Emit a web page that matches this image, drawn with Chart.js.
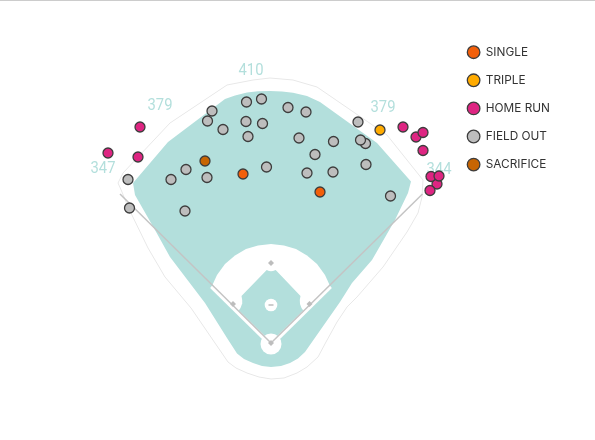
<!DOCTYPE html>
<html>
<head>
<meta charset="utf-8">
<title>Spray chart</title>
<script src="https://cdn.jsdelivr.net/npm/chart.js@4"></script>
<style>
  html, body { margin: 0; padding: 0; background: #fff; }
  body { border-top: 1px solid #ccc; width: 595px; height: 439px; overflow: hidden; position: relative; }
  canvas { position: absolute; top: -1px; left: 0; }
</style>
</head>
<body>
<canvas id="chart" width="595" height="440"></canvas>
<script>
// hits (x, y in field units)
const singles = [[243, 174], [320, 192]];
const triples = [[380, 130]];
const homeRuns = [[140, 127], [108, 153], [138, 157], [403, 127], [416, 137], [423, 132.5],
  [423, 150.5], [437, 184], [431, 176.5], [439, 176], [430, 190.5]];
const fieldOuts = [[128, 179.5], [129.5, 208], [185, 211], [171, 179.5], [186, 169.5], [207, 177.5],
  [266.5, 167], [212, 111], [207.5, 121], [223, 129.5], [246.5, 102], [261.5, 99], [246, 121.5],
  [262.5, 123.5], [248, 136.5], [288, 107.5], [306, 112], [299, 138], [333.5, 141.5], [315, 154.5],
  [307, 173], [333, 172], [366, 164.5], [358, 122], [365.5, 143.5], [360.5, 140], [390.5, 196]];
const sacrifices = [[205, 161]];

const hitNames = ['SINGLE', 'TRIPLE', 'HOME RUN', 'FIELD OUT', 'SACRIFICE'];
const hitColors = ['#f25f0a', '#ffab00', '#de2582', '#bdbdbd', '#c76503'];

const distanceLabels = ['410', '379', '379', '347', '344'];
const distanceSpots = [[251, 71], [160, 105.5], [383, 108], [103, 169], [439, 170]];

// field shapes
const wallLine = [[118, 183], [122, 192], [128, 207], [148, 248], [165, 277], [191, 308], [228, 362],
  [236, 368], [247, 373], [259, 377], [271, 379], [284, 378], [297, 373], [307, 367], [318, 357],
  [326, 342], [337, 322], [347, 307], [357, 297], [383, 267], [407, 232], [418, 213], [422, 197],
  [423, 180], [387, 135], [317, 87], [293, 80], [270, 78], [253, 80], [227, 85], [170, 123],
  [123, 173], [118, 183]];
const grass = [[133, 183], [168, 142], [225, 99], [235, 95.5], [247, 92.5], [258, 91.3], [270, 91],
  [282, 91.5], [293, 92.7], [307, 96], [320, 102], [377, 143], [411, 181.5], [408, 193], [395, 220],
  [372, 260], [352, 283], [340, 302], [305, 352], [298, 358.5], [290, 363], [281, 366], [271, 367],
  [262, 366], [253, 363], [244, 359], [237, 353.5], [227, 338], [205, 303], [170, 257], [155, 230],
  [135, 195]];
const infieldDirt = [[211.5, 287], [217, 275], [225, 264], [235, 255.5], [246, 249], [258, 245.5],
  [271, 244], [284, 245.5], [296, 249], [307, 255.5], [317, 264], [325, 275], [330.5, 287], [271, 345]];
const infieldGrass = [[266.7, 270], [269, 271], [271, 271.3], [273, 271], [275.7, 270], [300.5, 296],
  [299.8, 300], [300, 304], [301.5, 308], [304, 311.5], [271, 347], [238, 311.5], [240.5, 308],
  [242, 304], [242.2, 300], [241.5, 296]];
const leftFoul = [[271, 343], [120, 194]];
const rightFoul = [[271, 343], [422.5, 194]];
const leftStripe = [[211.5, 286.5], [271, 345]];
const rightStripe = [[330.5, 286.5], [271, 345]];
const bases = [[271, 263], [233, 304], [309.5, 304], [271, 343]];
const homeClearing = [[271, 344]];
const mound = [[271, 305]];

const TEAL = '#b3dfdc';
// chart.js insets the plot by the biggest point radius, so the axes start there too
const INSET = 10.5;

function hitSet(i, data) {
  return {
    label: hitNames[i],
    data: data,
    backgroundColor: hitColors[i],
    borderColor: '#3d3d3d',
    borderWidth: 1.3,
    pointRadius: 5,
    pointStyle: 'circle'
  };
}

function shape(data, color) {
  return {
    data: data,
    showLine: true,
    fill: 'shape',
    backgroundColor: color,
    borderColor: color,
    borderWidth: 0,
    pointRadius: 0
  };
}

function line(data, color, width) {
  return {
    data: data,
    showLine: true,
    fill: false,
    borderColor: color,
    borderWidth: width,
    pointRadius: 0
  };
}

function dots(data, color, radius, extra) {
  return Object.assign({
    data: data,
    backgroundColor: color,
    borderColor: color,
    borderWidth: 0,
    pointRadius: radius
  }, extra || {});
}

// distance numbers around the wall, squeezed a bit to look condensed
const distancePlugin = {
  id: 'distances',
  beforeDatasetsDraw(chart) {
    const ctx = chart.ctx;
    const { x, y } = chart.scales;
    ctx.save();
    ctx.fillStyle = TEAL;
    ctx.font = '17px Roboto';
    ctx.textAlign = 'center';
    ctx.textBaseline = 'middle';
    distanceLabels.forEach((text, i) => {
      ctx.save();
      ctx.translate(x.getPixelForValue(distanceSpots[i][0]), y.getPixelForValue(distanceSpots[i][1]));
      ctx.scale(0.87, 1);
      ctx.fillText(text, 0, 0);
      ctx.restore();
    });
    ctx.restore();
  }
};

// put the legend in the empty space right of the field
const legendSpot = {
  id: 'legendSpot',
  afterLayout(chart) {
    chart.legend.left = 451;
    chart.legend.top = 30;
  }
};

new Chart(document.getElementById('chart'), {
  type: 'scatter',
  data: {
    datasets: [
      hitSet(0, singles),
      hitSet(1, triples),
      hitSet(2, homeRuns),
      hitSet(3, fieldOuts),
      hitSet(4, sacrifices),
      dots(mound, '#bdbdbd', 2.5, { pointStyle: 'line', borderWidth: 1.5 }),
      dots(bases, '#bdbdbd', 3, { pointStyle: 'rectRot' }),
      line(leftFoul, '#c4c4c4', 1.5),
      line(rightFoul, '#c4c4c4', 1.5),
      line(leftStripe, '#fff', 4),
      line(rightStripe, '#fff', 4),
      dots(mound, '#fff', 6.3),
      dots(homeClearing, '#fff', 10.5),
      shape(infieldGrass, TEAL),
      shape(infieldDirt, '#fff'),
      shape(grass, TEAL),
      line(wallLine, '#e8e8e8', 1)
    ]
  },
  options: {
    responsive: false,
    animation: false,
    layout: { padding: 0 },
    scales: {
      x: { type: 'linear', min: INSET, max: 595 - INSET, display: false },
      y: { type: 'linear', min: INSET, max: 440 - INSET, reverse: true, display: false }
    },
    plugins: {
      tooltip: { enabled: false },
      legend: {
        position: 'chartArea',
        align: 'start',
        labels: {
          usePointStyle: true,
          pointStyleWidth: 12.6,
          boxHeight: 8.9,
          padding: 16.3,
          color: '#333',
          font: { family: 'Inter', size: 11.8 },
          filter: (item) => hitNames.includes(item.text)
        }
      }
    }
  },
  plugins: [distancePlugin, legendSpot]
});
</script>
</body>
</html>
